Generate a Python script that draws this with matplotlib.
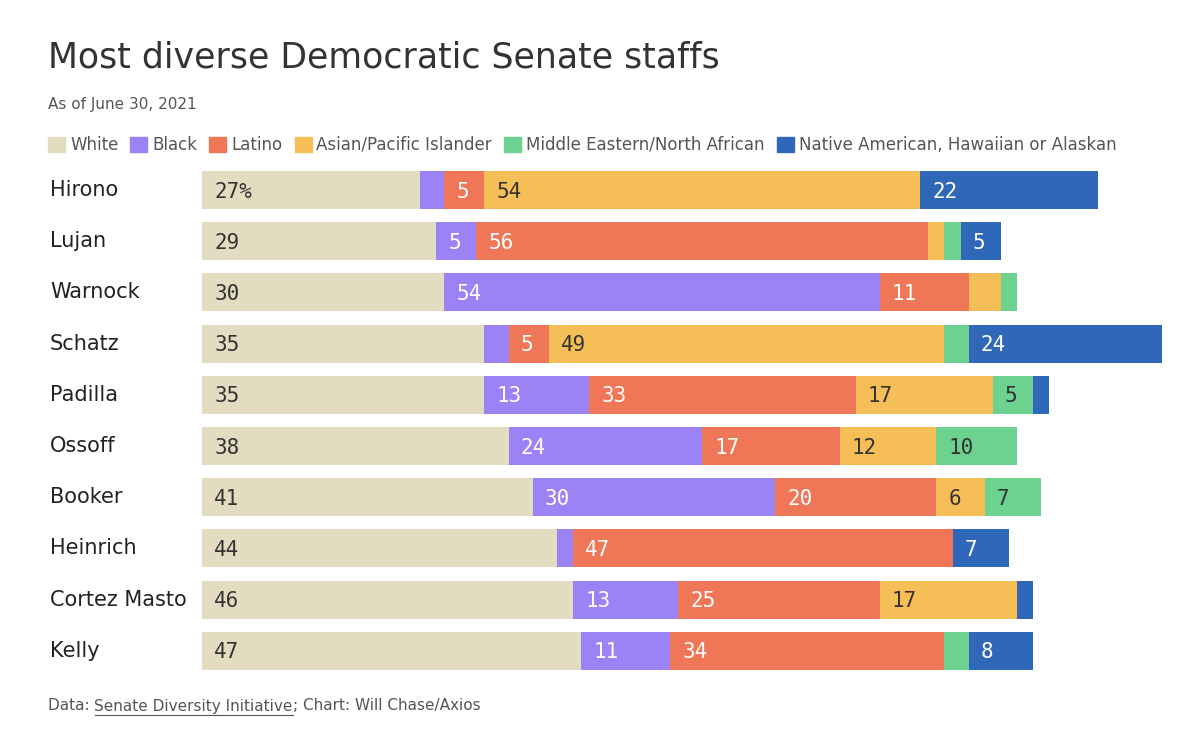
import matplotlib
matplotlib.use("Agg")
import matplotlib.pyplot as plt
import numpy as np

senators = ["Hirono","Lujan","Warnock","Schatz","Padilla","Ossoff","Booker","Heinrich","Cortez Masto","Kelly"]
groups = ["White","Black","Latino","Asian/Pacific Islander","Middle Eastern/North African","Native American, Hawaiian or Alaskan"]
white  = [27,29,30,35,35,38,41,44,46,47]
black  = [3,5,54,3,13,24,30,2,13,11]
latino = [5,56,11,5,33,17,20,47,25,34]
asian  = [54,2,4,49,17,12,6,0,17,0]
mena   = [0,2,2,3,5,10,7,0,0,3]
native = [22,5,0,24,2,0,0,7,2,8]
colors = ["#e3dcc0","#9b82f5","#ef7656","#f5be57","#6dd18f","#2f67b9"]
txtcol = ["#333333","white","white","#333333","#333333","white"]
series = [white,black,latino,asian,mena,native]

W,H = 1200,736
fig = plt.figure(figsize=(12,7.36), dpi=100)
ax = fig.add_axes([202/W, 1-676.4/H, 961/W, 512/H])
ax.set_xlim(0, 961/8.07)
ax.set_ylim(9.5,-0.5)
ax.axis("off")
y = np.arange(len(senators))
left = np.zeros(len(senators))
for si,(vals,c,tc) in enumerate(zip(series,colors,txtcol)):
    vals = np.array(vals,dtype=float)
    ax.barh(y, vals, left=left, color=c, height=0.74)
    for i,v in enumerate(vals):
        if v >= 5:
            lab = f"{int(v)}%" if (si==0 and i==0) else f"{int(v)}"
            ax.text(left[i]+1.5, y[i]+0.03, lab, color=tc, va="center", ha="left",
                    fontsize=15, family="DejaVu Sans Mono")
    left += vals
for i,s in enumerate(senators):
    fig.text(50/W, 1-(190+i*51.2)/H, s, fontsize=15, va="center", ha="left", color="#222222")

fig.text(48/W, 1-57/H, "Most diverse Democratic Senate staffs", fontsize=25, va="center", color="#333333")
fig.text(48/W, 1-104/H, "As of June 30, 2021", fontsize=11, va="center", color="#555555")
# legend
x = 48
r = fig.canvas.get_renderer()
for g,c in zip(groups,colors):
    fig.patches.append(matplotlib.patches.Rectangle((x/W, 1-152/H), 17/W, 15/H, color=c, transform=fig.transFigure))
    t = fig.text((x+22)/W, 1-144.5/H, g, fontsize=12, va="center", color="#555555")
    bb = t.get_window_extent(r)
    x = x + 22 + bb.width + 12
t1 = fig.text(48/W, 1-706/H, "Data: ", fontsize=11, va="center", color="#555555")
bb = t1.get_window_extent(r)
t2 = fig.text((48+bb.width)/W, 1-706/H, "Senate Diversity Initiative", fontsize=11, va="center", color="#555555")
bb2 = t2.get_window_extent(r)
fig.add_artist(matplotlib.lines.Line2D([bb2.x0/W, bb2.x1/W],[1-715/H,1-715/H], color="#555555", lw=0.8))
fig.text(bb2.x1/W, 1-706/H, "; Chart: Will Chase/Axios", fontsize=11, va="center", color="#555555")
fig.savefig("out.png", dpi=100)
